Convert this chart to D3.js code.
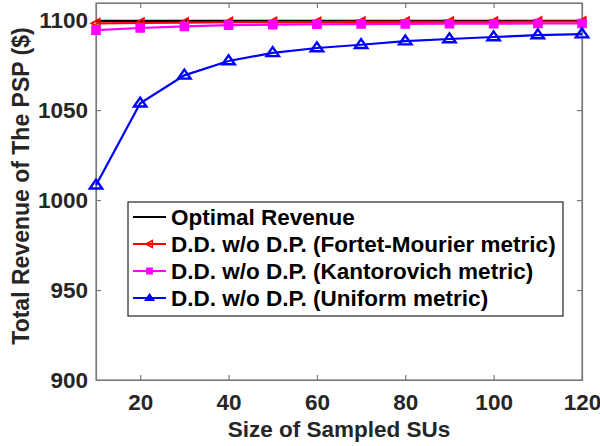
<!DOCTYPE html>
<html>
<head>
<meta charset="utf-8">
<script src="https://cdn.jsdelivr.net/npm/d3@7"></script>
<style>
  html, body { margin: 0; padding: 0; background: #fff; }
  svg { display: block; font-family: "Liberation Sans", Arial, Helvetica, sans-serif; }
</style>
</head>
<body>
<svg id="chart" width="600" height="446"></svg>
<script>
// Sample sizes (number of sampled SUs)
const sampleSizes = [10, 20, 30, 40, 50, 60, 70, 80, 90, 100, 110, 120];

// Total revenue of the PSP for each approach
const optimalRevenue = [1099.6, 1099.6, 1099.6, 1099.6, 1099.6, 1099.6, 1099.6, 1099.6, 1099.6, 1099.6, 1099.6, 1099.6];
const fortetMourier = [1098.2, 1098.4, 1098.6, 1098.8, 1098.9, 1098.9, 1099.0, 1099.0, 1099.0, 1099.0, 1099.1, 1099.1];
const kantorovich = [1094.4, 1095.6, 1096.5, 1097.2, 1097.5, 1097.7, 1097.8, 1097.9, 1098.0, 1098.0, 1098.1, 1098.1];
const uniformMetric = [1008.2, 1053.8, 1069.3, 1077.3, 1081.8, 1084.5, 1086.3, 1088.3, 1089.5, 1090.6, 1091.7, 1092.2];

const xTicks = [20, 40, 60, 80, 100, 120];
const yTicks = [900, 950, 1000, 1050, 1100];

const seriesNames = [
  "Optimal Revenue",
  "D.D. w/o D.P. (Fortet-Mourier metric)",
  "D.D. w/o D.P. (Kantorovich metric)",
  "D.D. w/o D.P. (Uniform metric)"
];

const series = [
  { name: seriesNames[0], values: optimalRevenue, color: "#000000", marker: null },
  { name: seriesNames[1], values: fortetMourier, color: "#ff0000", marker: "left" },
  { name: seriesNames[2], values: kantorovich, color: "#ff00ff", marker: "square" },
  { name: seriesNames[3], values: uniformMetric, color: "#0000ff", marker: "up" }
];

const svg = d3.select("#chart");
const plot = { left: 96, right: 582, top: 3, bottom: 380 };
const axisGray = "#7a7a7a";
const textColor = "#262626";

const x = d3.scaleLinear().domain([10, 120]).range([plot.left, plot.right]);
const y = d3.scaleLinear().domain([900, 1109.5]).range([plot.bottom, plot.top]);

// Plot box
svg.append("rect")
  .attr("x", plot.left).attr("y", plot.top)
  .attr("width", plot.right - plot.left).attr("height", plot.bottom - plot.top)
  .attr("fill", "#fff").attr("stroke", axisGray).attr("stroke-width", 1.2);

// Axes with inward ticks
const fontSize = 22.5;
const fmt = d3.format("d");
const xAxis = svg.append("g")
  .attr("transform", `translate(0,${plot.bottom})`)
  .call(d3.axisBottom(x).tickValues(xTicks).tickFormat(fmt).tickSizeInner(-5).tickSizeOuter(0).tickPadding(14));
const xTop = svg.append("g")
  .attr("transform", `translate(0,${plot.top})`)
  .call(d3.axisTop(x).tickValues(xTicks).tickSizeInner(-5).tickSizeOuter(0).tickFormat(""));
const yAxis = svg.append("g")
  .attr("transform", `translate(${plot.left},0)`)
  .call(d3.axisLeft(y).tickValues(yTicks).tickFormat(fmt).tickSizeInner(-5).tickSizeOuter(0).tickPadding(8));
const yRight = svg.append("g")
  .attr("transform", `translate(${plot.right},0)`)
  .call(d3.axisRight(y).tickValues(yTicks).tickSizeInner(-5).tickSizeOuter(0).tickFormat(""));

[xAxis, xTop, yAxis, yRight].forEach(g => {
  g.select(".domain").attr("stroke", axisGray).attr("stroke-width", 1.2);
  g.selectAll(".tick line").attr("stroke", axisGray).attr("stroke-width", 1.2);
  g.selectAll(".tick text")
    .attr("fill", textColor)
    .style("font-size", fontSize + "px")
    .style("font-weight", "bold")
    .style("font-family", "'Liberation Sans', Arial, sans-serif");
});

// Axis titles
svg.append("text")
  .attr("x", (plot.left + plot.right) / 2).attr("y", 437)
  .attr("text-anchor", "middle")
  .attr("fill", textColor)
  .style("font-size", "22.5px").style("font-weight", "bold")
  .text("Size of Sampled SUs");
svg.append("text")
  .attr("transform", `translate(29,${186}) rotate(-90)`)
  .attr("text-anchor", "middle")
  .attr("fill", textColor)
  .style("font-size", "23px").style("font-weight", "bold")
  .text("Total Revenue of The PSP ($)");

// Marker shapes
function markerPath(type, s) {
  if (type === "left") {
    return `M${-s},0 L${s * 0.8},${-s} L${s * 0.8},${s} Z`;
  }
  if (type === "square") {
    return `M${-s},${-s} L${s},${-s} L${s},${s} L${-s},${s} Z`;
  }
  if (type === "up") {
    return `M0,${-s * 1.05} L${s * 1.15},${s * 0.6} L${-s * 1.15},${s * 0.6} Z`;
  }
  return "";
}
const markerSize = { left: 4.5, square: 3.8, up: 5.4 };

const line = d3.line()
  .x((d, i) => x(sampleSizes[i]))
  .y(d => y(d));

const layer = svg.append("g");
series.forEach(s => {
  layer.append("path")
    .datum(s.values)
    .attr("d", line)
    .attr("fill", "none")
    .attr("stroke", s.color)
    .attr("stroke-width", 2.2);
  if (s.marker) {
    layer.selectAll(null)
      .data(s.values)
      .enter().append("path")
      .attr("transform", (d, i) => `translate(${x(sampleSizes[i])},${y(d)})`)
      .attr("d", markerPath(s.marker, markerSize[s.marker]))
      .attr("fill", s.marker === "square" ? s.color : "none")
      .attr("stroke", s.color)
      .attr("stroke-width", s.marker === "up" ? 2.4 : 2);
  }
});

// Legend
const legend = { x: 128, y: 202, w: 435, h: 114, rowH: 27, first: 217 };
svg.append("rect")
  .attr("x", legend.x).attr("y", legend.y)
  .attr("width", legend.w).attr("height", legend.h)
  .attr("fill", "#fff").attr("stroke", "#262626").attr("stroke-width", 1.2);

const legendRows = svg.append("g").selectAll("g")
  .data(series)
  .enter().append("g")
  .attr("transform", (d, i) => `translate(${legend.x},${legend.first + i * legend.rowH})`);

legendRows.append("line")
  .attr("x1", 5).attr("x2", 38)
  .attr("y1", 0).attr("y2", 0)
  .attr("stroke", d => d.color).attr("stroke-width", 2.2);
legendRows.filter(d => d.marker).append("path")
  .attr("transform", "translate(21.5,0)")
  .attr("d", d => markerPath(d.marker, d.marker === "square" ? 2.6 : 3.5))
  .attr("fill", d => d.marker === "square" || d.marker === "up" ? d.color : "none")
  .attr("stroke", d => d.color)
  .attr("stroke-width", 1.6);
legendRows.append("text")
  .attr("x", 43).attr("y", 0).attr("dy", "0.36em")
  .attr("fill", "#000")
  .style("font-size", "22.5px").style("font-weight", "bold")
  .text(d => d.name);
</script>
</body>
</html>
